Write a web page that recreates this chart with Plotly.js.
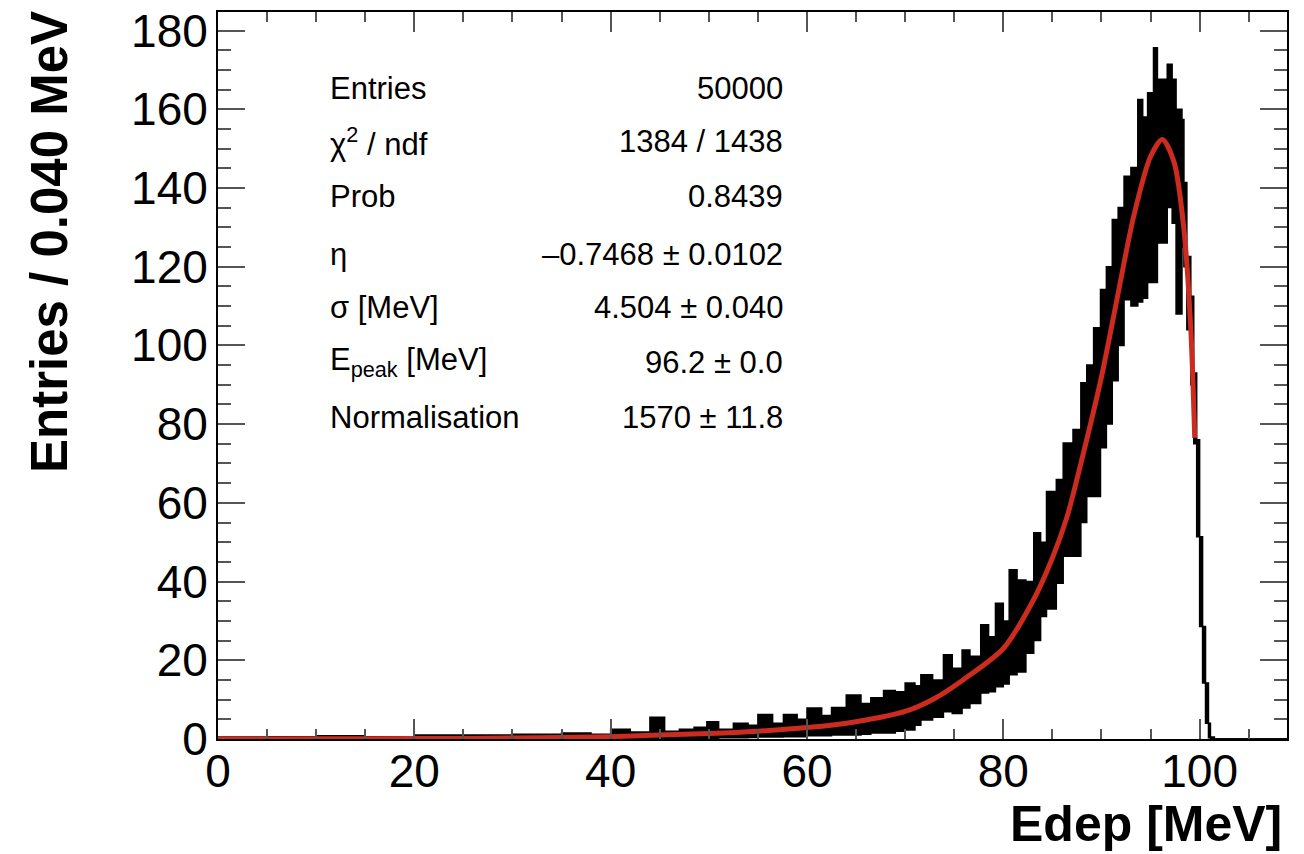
<!DOCTYPE html>
<html>
<head>
<meta charset="utf-8">
<script src="https://cdn.plot.ly/plotly-3.0.1.min.js"></script>
<style>
  html, body { margin: 0; padding: 0; background: #fff; }
  #chart { width: 1304px; height: 854px; }
</style>
</head>
<body>
<div id="chart"></div>
<script>
// ---- Histogram (Edep, 0.040 MeV bins) read as lower / upper envelope of the bin contents ----
const histX = [0, 5, 10, 15, 20, 25, 30, 35, 38, 40, 42, 44, 45.5, 47, 48.5, 49.8, 51, 52.5, 54, 55, 56.5, 57.6, 59,
  60, 61.5, 62.5, 64, 65.5, 66.5, 67.8, 69, 70, 71, 71.6, 72.8, 73.9, 74.8, 75.8, 76.6, 77.7, 78.5, 79.2, 80,
  80.6, 81.4, 82.3, 83.1, 83.8, 84.4, 85.4, 86.1, 87.1, 87.9, 88.5, 89.2, 89.9, 90.5, 91.1, 91.7, 92.3, 93.0,
  93.7, 94.2, 94.7, 95.3, 95.7, 96.3, 96.7, 97.2, 97.6, 98.2, 98.4, 98.7, 99.1, 99.4, 99.7, 100.0, 100.3,
  100.6, 100.9, 101.1, 101.5, 109];
const histLow = [0, 0, 0, 0, 0, 0, 0, 0, 0, 0, 0, 0, 0, 0, 0.2, 0.2, 0.3, 0.3, 0.4, 0.5, 0.5, 0.6, 0.6,
  0.8, 0.8, 1, 1, 1.2, 1.5, 1.5, 2, 2.3, 3.5, 4.8, 5.5, 6.9, 6.5, 7.9, 9, 11.7, 12, 13.3, 14,
  16.3, 17, 21.8, 25, 31.1, 33, 39.6, 46.4, 46.4, 55, 61.6, 61.6, 74, 80, 91, 100, 111.6, 110,
  111, 112, 116, 116, 126, 126, 135, 131, 108, 125, 120, 104, 90, 75, 51.4, 28.6, 14.2,
  4, 0.3, 0, 0, 0];
const histHigh = [0.5, 0.6, 0.8, 0.6, 1.0, 1.0, 1.2, 1.5, 1.2, 2.5, 1.8, 5.5, 2, 2.5, 3, 4.4, 2.5, 4, 3.5, 6.2, 4, 6.2, 5,
  7.9, 6, 8, 11.2, 9, 10.5, 12.3, 12, 14.2, 13.5, 16.3, 15, 21.4, 18, 22.6, 21, 29, 26, 34.5, 30,
  43, 40.4, 40, 52.4, 50, 62.9, 65.9, 75.2, 78.6, 90.5, 95, 104.5, 114.2, 120, 132, 135, 143, 145.2,
  162.5, 158, 164.2, 175.6, 167.6, 167.6, 171.4, 167.6, 160, 157.4, 141.4, 122.6, 112.5, 93, 76, 51.4, 28.6,
  14.2, 4, 0.5, 0, 0];

// ---- Fit curve ----
const fitX = [0, 10, 20, 30, 40, 45, 50, 55, 60, 65, 70, 73, 76, 80, 83, 85, 86.5, 88, 90, 91.6, 93.3, 95, 96.2, 97.4, 98.4, 99.1, 99.5];
const fitY = [0, 0.05, 0.1, 0.25, 0.6, 1.0, 1.4, 2.0, 2.9, 4.4, 7.0, 10.3, 15.2, 23, 35, 46, 56.5, 71, 92, 112, 133, 148, 152.3, 146.5, 129.5, 104, 76.5];

// ---- Stats box ----
const statLabels = ["Entries", "χ<sup>2</sup> / ndf", "Prob", "η", "σ [MeV]", "E<sub>peak</sub> [MeV]", "Normalisation"];
const statValues = ["50000", "1384 / 1438", "0.8439", "–0.7468 ± 0.0102", "4.504 ± 0.040", "96.2 ± 0.0", "1570 ± 11.8"];
const statRowsPx = [88, 142, 197, 255, 307, 362, 417];

// ---- Axis ticks ----
const xTicks = [0, 20, 40, 60, 80, 100];
const yTicks = [0, 20, 40, 60, 80, 100, 120, 140, 160, 180];

const W = 1304, H = 854;
const M = { l: 218, r: 17, t: 12, b: 115 };
const plotW = W - M.l - M.r, plotH = H - M.t - M.b;
const pxToPaperX = px => (px - M.l) / plotW;
const pxToPaperY = py => (H - M.b - py) / plotH;

const FONT = '"Liberation Sans", Arial, Helvetica, sans-serif';

const traces = [
  { x: histX, y: histLow, type: 'scatter', mode: 'lines', line: { shape: 'hv', color: '#000', width: 1.5 },
    hoverinfo: 'skip', showlegend: false },
  { x: histX, y: histHigh, type: 'scatter', mode: 'lines', line: { shape: 'hv', color: '#000', width: 1.5 },
    fill: 'tonexty', fillcolor: '#000', hoverinfo: 'skip', showlegend: false },
  { x: fitX, y: fitY, type: 'scatter', mode: 'lines', line: { shape: 'spline', smoothing: 0.8, color: '#cc2b1f', width: 5 },
    showlegend: false }
];

const annotations = [];
statLabels.forEach((t, i) => {
  annotations.push({ xref: 'paper', yref: 'paper', x: pxToPaperX(328), y: pxToPaperY(statRowsPx[i]),
    xanchor: 'left', yanchor: 'middle', text: t, showarrow: false,
    font: { family: FONT, size: 31, color: '#000' } });
  annotations.push({ xref: 'paper', yref: 'paper', x: pxToPaperX(785), y: pxToPaperY(statRowsPx[i]),
    xanchor: 'right', yanchor: 'middle', text: statValues[i], showarrow: false,
    font: { family: FONT, size: 31, color: '#000' } });
});
annotations.push({ xref: 'paper', yref: 'paper', x: pxToPaperX(1284), y: pxToPaperY(824),
  xanchor: 'right', yanchor: 'middle', text: '<b>Edep [MeV]</b>', showarrow: false,
  font: { family: FONT, size: 50, color: '#000' } });
annotations.push({ xref: 'paper', yref: 'paper', x: pxToPaperX(50), y: pxToPaperY(9),
  xanchor: 'center', yanchor: 'top', textangle: -90, text: '<b>Entries / 0.040 MeV</b>', showarrow: false,
  font: { family: FONT, size: 51, color: '#000' } });

const axisCommon = {
  showgrid: false, zeroline: false, showline: true, linecolor: '#000', linewidth: 2,
  mirror: 'ticks', ticks: 'inside', tickcolor: '#555', tickwidth: 2,
  tickfont: { family: FONT, size: 46, color: '#000' }
};

const layout = {
  width: W, height: H,
  margin: M,
  paper_bgcolor: '#fff', plot_bgcolor: '#fff',
  showlegend: false,
  xaxis: Object.assign({}, axisCommon, {
    range: [0, 108.9], tickmode: 'array', tickvals: xTicks, ticktext: xTicks.map(String),
    ticklen: 20, ticklabelstandoff: -9,
    minor: { dtick: 5, tick0: 0, ticks: 'inside', ticklen: 10, tickcolor: '#555', tickwidth: 2, showgrid: false }
  }),
  yaxis: Object.assign({}, axisCommon, {
    range: [0, 184.7], tickmode: 'array', tickvals: yTicks, ticktext: yTicks.map(String),
    ticklen: 27, ticklabelstandoff: -1,
    minor: { dtick: 5, tick0: 0, ticks: 'inside', ticklen: 13, tickcolor: '#555', tickwidth: 2, showgrid: false }
  }),
  annotations: annotations
};

Plotly.newPlot('chart', traces, layout, { displayModeBar: false, staticPlot: true });
</script>
</body>
</html>
